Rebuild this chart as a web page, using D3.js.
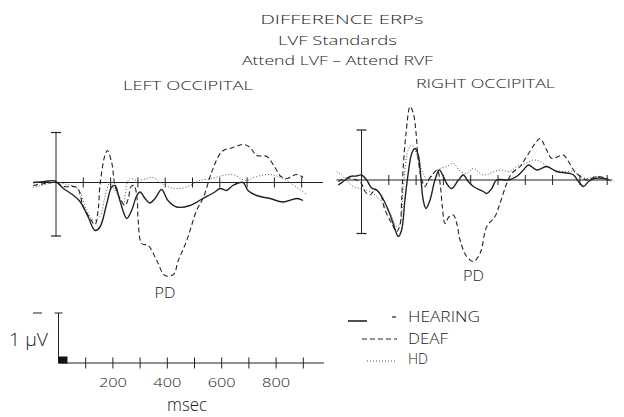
<!DOCTYPE html>
<html><head><meta charset="utf-8">
<script src="https://cdn.jsdelivr.net/npm/d3@7"></script>
<style>
body{margin:0;background:#fff}
svg{display:block}
text{font-family:"Open Sans","DejaVu Sans",sans-serif;font-weight:300;fill:#1a1a1a}
</style>
</head><body>
<svg id="c" width="624" height="417"></svg>
<script>
// ---- data: [time in ms, amplitude in µV] ----
const leftHearing = [[-84,0],[-40,0.02],[-4,0.03],[27,-0.12],[60,-0.24],[88,-0.38],[118,-0.69],[143,-0.96],[161,-0.89],[186,-0.42],[204,-0.09],[216,-0.06],[234,-0.36],[259,-0.72],[277,-0.56],[296,-0.26],[308,-0.19],[326,-0.32],[344,-0.41],[363,-0.32],[387,-0.14],[410,-0.36],[442,-0.49],[491,-0.46],[538,-0.32],[582,-0.19],[601,-0.12],[625,-0.16],[648,-0.06],[685,0.0],[703,-0.16],[735,-0.26],[784,-0.32],[831,-0.39],[882,-0.32],[905,-0.36]];
const leftDeaf = [[-84,-0.06],[-40,-0.02],[0,0.0],[26,-0.08],[76,-0.1],[100,-0.48],[125,-0.72],[143,-0.84],[155,-0.52],[161,-0.06],[179,0.54],[188,0.64],[204,0.4],[216,-0.06],[234,-0.32],[253,-0.46],[265,-0.32],[275,-0.08],[286,-0.06],[297,-0.32],[301,-0.76],[314,-1.22],[338,-1.26],[369,-1.56],[399,-1.86],[430,-1.84],[448,-1.56],[479,-1.16],[515,-0.56],[540,-0.3],[571,0.22],[608,0.62],[648,0.7],[685,0.76],[711,0.7],[735,0.54],[772,0.52],[802,0.3],[824,0.12],[846,0.08],[882,0.16],[905,0.1]];
const leftHD = [[-84,-0.1],[-40,-0.04],[0,0],[40,-0.04],[80,-0.12],[110,-0.52],[137,-0.76],[161,-0.68],[179,-0.3],[198,0],[216,-0.16],[234,-0.3],[247,-0.42],[260,-0.02],[271,0.08],[297,0.04],[333,0.08],[357,0.1],[387,-0.02],[418,-0.1],[454,-0.12],[491,-0.06],[527,0.04],[571,0.08],[612,0.14],[648,0.16],[696,0.04],[735,0.12],[784,0.16],[813,0.12],[846,0.04],[882,-0.1],[919,-0.24]];

const rightHearing = [[-85,-0.1],[-67,-0.03],[-42,0.07],[-18,0.08],[0,0.1],[19,0],[37,-0.16],[56,-0.2],[74,-0.33],[98,-0.6],[116,-0.87],[135,-1.13],[147,-1.0],[159,-0.4],[171,0.13],[184,0.53],[196,0.63],[208,0.5],[217,0.07],[226,-0.4],[236,-0.57],[251,-0.4],[269,0],[285,0.2],[300,0.07],[312,-0.07],[330,-0.17],[355,0],[373,0.1],[391,-0.03],[410,-0.13],[446,-0.23],[458,-0.27],[477,-0.17],[495,0],[538,0],[568,0.07],[593,0.2],[611,0.3],[642,0.2],[678,0.27],[715,0.17],[765,0.13],[777,0.1],[795,-0.03],[813,-0.13],[832,-0.03],[853,0.03],[890,0.03],[908,0]];
const rightDeaf = [[-85,-0.03],[-54,0.04],[-18,0],[0,-0.07],[13,-0.23],[31,-0.3],[49,-0.2],[68,-0.27],[86,-0.6],[111,-0.87],[129,-1.03],[141,-0.9],[147,-0.4],[153,0.27],[163,0.93],[178,1.47],[190,1.33],[200,0.93],[208,0.4],[221,0],[233,-0.13],[245,0],[263,0.13],[278,0.2],[288,-0.07],[296,-0.53],[306,-0.87],[320,-0.74],[336,-0.7],[349,-0.87],[361,-1.2],[385,-1.53],[410,-1.63],[434,-1.47],[459,-0.93],[489,-0.73],[507,-0.47],[532,-0.07],[550,0.13],[581,0.27],[605,0.47],[636,0.73],[654,0.83],[678,0.6],[697,0.43],[721,0.47],[739,0.5],[758,0.37],[777,0.2],[795,0.1],[826,0],[862,0.07],[898,0.03]];
const rightHD = [[-91,0.17],[-73,0.1],[-53,-0.02],[-30,-0.13],[-5,-0.17],[19,-0.2],[43,-0.27],[68,-0.4],[86,-0.53],[111,-0.73],[129,-0.93],[141,-0.87],[153,-0.13],[171,0.6],[184,0.7],[196,0.6],[208,0.4],[226,0.13],[245,-0.03],[263,0.13],[288,0.23],[312,0.27],[336,0.33],[361,0.18],[385,0.13],[410,0.23],[446,0.1],[507,0.2],[544,0.17],[568,0.27],[599,0.33],[630,0.4],[654,0.37],[703,0.2],[752,0.17],[777,0.17],[802,0.07],[826,0.03],[862,0.07],[898,0],[923,-0.03]];

const tickTimes = [100,200,300,400,500,600,700,800,900];
const scaleLabels = [200,400,600,800];
const calBar = [1.0,-1.07];
const legendNames = ["HEARING","DEAF","HD"];
const titleLines = ["DIFFERENCE ERPs","LVF Standards","Attend LVF \u2013 Attend RVF"];
const panelTitles = ["LEFT OCCIPITAL","RIGHT OCCIPITAL"];

// ---- drawing ----
const svg = d3.select("#c");
svg.append("rect").attr("width",624).attr("height",417).attr("fill","#fff");
const ink = "#222";

const styles = {
  hearing:{w:1.4,dash:null,c:ink},
  deaf:{w:1.1,dash:"5,3",c:ink},
  hd:{w:1.0,dash:"1,2",c:"#555"}
};

function txt(s,x,y,size,len,anchor){
  const t = svg.append("text").attr("x",x).attr("y",y).attr("font-size",size)
    .attr("text-anchor",anchor||"middle").text(s);
  if(len) t.attr("textLength",len).attr("lengthAdjust","spacingAndGlyphs");
  return t;
}

function panel(cfg){
  const x = d3.scaleLinear().domain([0,1000]).range([cfg.x0,cfg.x0+273]);
  const y = d3.scaleLinear().domain([-1,1]).range([cfg.base+50,cfg.base-50]);
  const g = svg.append("g");
  g.append("line").attr("x1",x(cfg.tmin)).attr("x2",x(cfg.tmax))
    .attr("y1",y(0)).attr("y2",y(0)).attr("stroke",ink).attr("stroke-width",1);
  g.selectAll(".tk").data(tickTimes).join("line")
    .attr("x1",d=>x(d)).attr("x2",d=>x(d)).attr("y1",y(0)-5).attr("y2",y(0)+5)
    .attr("stroke",ink).attr("stroke-width",1);
  g.append("line").attr("x1",x(0)).attr("x2",x(0)).attr("y1",y(calBar[0])).attr("y2",y(calBar[1]))
    .attr("stroke",ink).attr("stroke-width",1);
  calBar.forEach(v=>g.append("line").attr("x1",x(0)-5).attr("x2",x(0)+5)
    .attr("y1",y(v)).attr("y2",y(v)).attr("stroke",ink).attr("stroke-width",1.2));
  const line = d3.line().x(d=>x(d[0])).y(d=>y(d[1])).curve(d3.curveCatmullRom.alpha(0.5));
  [["hd",cfg.hd],["deaf",cfg.deaf],["hearing",cfg.hearing]].forEach(([k,data])=>{
    const s = styles[k];
    const p = g.append("path").attr("d",line(data)).attr("fill","none")
      .attr("stroke",s.c).attr("stroke-width",s.w).attr("stroke-linejoin","round");
    if(s.dash) p.attr("stroke-dasharray",s.dash);
  });
  const mn = d3.least(cfg.deaf,d=>d[1]);
  txt("PD",x(mn[0]),y(mn[1])+cfg.pdOff,15,21);
}

panel({x0:56,base:182.5,tmin:-80,tmax:978,hearing:leftHearing,deaf:leftDeaf,hd:leftHD,pdOff:22});
panel({x0:361.5,base:180,tmin:-92,tmax:919,hearing:rightHearing,deaf:rightDeaf,hd:rightHD,pdOff:19});

txt(titleLines[0],342,24,13.5,163);
txt(titleLines[1],337.5,45,13.5,119);
txt(titleLines[2],337.5,65,13.5,191);
txt(panelTitles[0],188,90,13.5,130);
txt(panelTitles[1],485.5,88,13.5,139);

(function(){
  const x = d3.scaleLinear().domain([0,1000]).range([58.5,58.5+272]);
  const y = d3.scaleLinear().domain([0,1]).range([363,313]);
  svg.append("line").attr("x1",x(0)).attr("x2",x(976)).attr("y1",y(0)).attr("y2",y(0))
    .attr("stroke",ink).attr("stroke-width",1);
  svg.selectAll(".stk").data(tickTimes).join("line")
    .attr("x1",d=>x(d)).attr("x2",d=>x(d)).attr("y1",y(0)-5.5).attr("y2",y(0)+5.5)
    .attr("stroke",ink).attr("stroke-width",1);
  svg.append("line").attr("x1",x(0)).attr("x2",x(0)).attr("y1",y(0)).attr("y2",y(1))
    .attr("stroke",ink).attr("stroke-width",1);
  svg.append("line").attr("x1",x(0)-4).attr("x2",x(0)+4).attr("y1",y(1)).attr("y2",y(1))
    .attr("stroke",ink).attr("stroke-width",1);
  svg.append("line").attr("x1",33).attr("x2",42).attr("y1",y(1)).attr("y2",y(1))
    .attr("stroke",ink).attr("stroke-width",1);
  svg.append("rect").attr("x",x(0)).attr("y",y(0)-6.5).attr("width",x(33)-x(0)).attr("height",7)
    .attr("fill","#111");
  scaleLabels.forEach(d=>txt(String(d),x(d),387,13,28));
  txt("msec",187,411,18,40);
  txt("1 \u03bcV",9,346,19,39,"start");
})();

const legY = [321,339,361];
const legTxtY = [322,344,364];
const legKeys = ["hearing","deaf","hd"];
const legX1 = [348,362,367];
legendNames.forEach((n,i)=>{
  const s = styles[legKeys[i]];
  const l = svg.append("line").attr("x1",legX1[i]).attr("x2",i===0?367:397)
    .attr("y1",legY[i]).attr("y2",legY[i]).attr("stroke",s.c).attr("stroke-width",i===0?1.6:1);
  if(s.dash) l.attr("stroke-dasharray",s.dash);
  txt(n,408,legTxtY[i],15,[72,40,20][i],"start");
});
svg.append("line").attr("x1",392).attr("x2",396).attr("y1",317).attr("y2",317)
  .attr("stroke",ink).attr("stroke-width",1.2);
</script>
</body></html>
